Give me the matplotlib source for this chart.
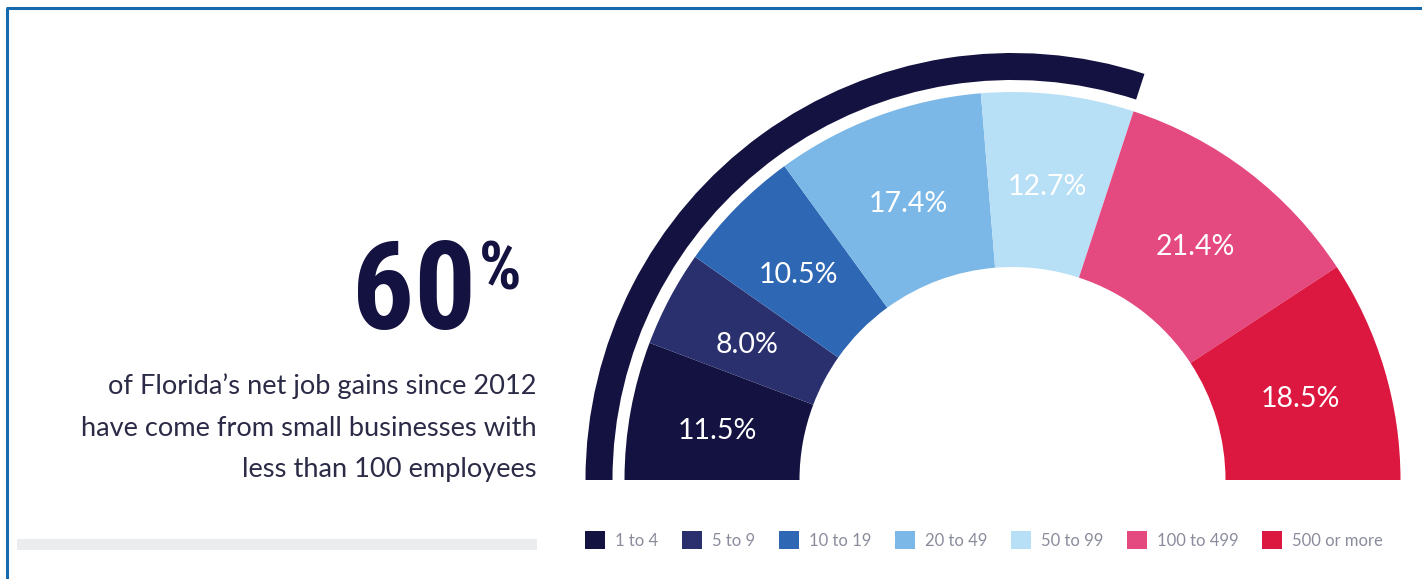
import os
import matplotlib
matplotlib.use("Agg")
import matplotlib.pyplot as plt
from matplotlib import font_manager
from matplotlib.font_manager import FontProperties
from matplotlib.patches import Rectangle
import numpy as np

# ── data ──────────────────────────────────────────────────────────────────────
sizes = ["1 to 4", "5 to 9", "10 to 19", "20 to 49", "50 to 99", "100 to 499", "500 or more"]
shares = [11.5, 8.0, 10.5, 17.4, 12.7, 21.4, 18.5]
colors = ["#141240", "#2a306e", "#2e67b3", "#7bb8e7", "#b7dff6", "#e4497f", "#dc1740"]
small_share = 60      # share from businesses < 100 employees
headline = "60"
caption = ["of Florida\u2019s net job gains since 2012",
           "have come from small businesses with",
           "less than 100 employees"]

W, H = 1422, 579
def Y(py):
    # picture rows run downwards, data y runs upwards
    return H - py

# a narrow bold face for the big number, if one of these is installed
prefs = ["notosans-extracondensedbold.ttf", "notosans-condensedbold.ttf",
         "robotocondensed-bold.ttf", "liberationsansnarrow-bold.ttf",
         "dejavusanscondensed-bold.ttf"]
by_name = {os.path.basename(f.fname).lower(): f.fname for f in font_manager.fontManager.ttflist}
big_fp = FontProperties(family="DejaVu Sans", weight="bold")
for p in prefs:
    if p in by_name:
        big_fp = FontProperties(fname=by_name[p])
        break
body = "Lato"

fig = plt.figure(figsize=(W / 100, H / 100), dpi=100)
ax = fig.add_axes([0, 0, 1, 1])

cx, cy = 1012.5, Y(480)
r_out, r_in = 388, 213

# half donut: the hidden 100 fills the lower half
wedges, _ = ax.pie(shares + [100], colors=colors + ["none"], startangle=180,
                   counterclock=False, center=(cx, cy), radius=r_out,
                   wedgeprops=dict(width=r_out - r_in, linewidth=0), frame=True)

# outer band marking the small-business share
ax.pie([small_share, 200 - small_share], colors=[colors[0], "none"], startangle=180,
       counterclock=False, center=(cx, cy), radius=427,
       wedgeprops=dict(width=27, linewidth=0), frame=True)

cum = np.cumsum([0] + shares)
for i, v in enumerate(shares):
    ang = np.deg2rad(180 - (cum[i] + v / 2) * 1.8)
    ax.text(cx + 300 * np.cos(ang), cy + 300 * np.sin(ang) - 5, f"{v:.1f}%",
            color="white", fontsize=20.5, family=body, ha="center", va="center")

ax.set_xlim(0, W)
ax.set_ylim(0, H)
ax.axis("off")

# headline: digits about 90 px tall, but don't let it get too wide
big = ax.text(476, Y(329), headline, fontproperties=big_fp, fontsize=93,
              color=colors[0], ha="right", va="baseline")
fig.canvas.draw()
bb = big.get_window_extent()
if bb.width > 124:
    big.set_fontsize(93 * 124 / bb.width)
pct_size = min(big.get_fontsize() * 0.68, 48)
ax.text(479, Y(240), "%", fontproperties=big_fp, fontsize=pct_size,
        color=colors[0], ha="left", va="top")

for k, line in enumerate(caption):
    ax.text(537, Y(386 + 42 * k), line, fontsize=19.6, family=body,
            color="#2b2b47", ha="right", va="center")

ax.add_patch(Rectangle((17, Y(550)), 520, 11, color="#ebecee", lw=0))

# frame lines on top and left
ax.plot([6, W], [Y(7.5), Y(7.5)], color="#1569ad", lw=2.2, solid_capstyle="butt")
ax.plot([6.5, 6.5], [Y(7.5), 0], color="#1569ad", lw=2.2, solid_capstyle="butt")

ax.legend(wedges[:7], sizes, ncol=7, frameon=False, loc="center left",
          bbox_to_anchor=(585 / W, Y(540) / H), borderpad=0, borderaxespad=0,
          labelcolor="#8a8c9c", handlelength=1.2, handleheight=1.2,
          handletextpad=0.6, columnspacing=1.42, prop=dict(family=body, size=12.0))

fig.savefig("out.png", dpi=100)
